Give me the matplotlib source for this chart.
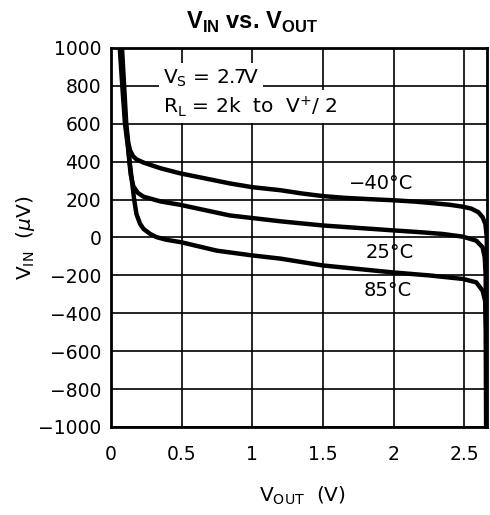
import matplotlib
matplotlib.use("Agg")
import matplotlib.pyplot as plt

plt.rcParams['font.family'] = ['DejaVu Sans']
plt.rcParams['mathtext.fontset'] = 'custom'
plt.rcParams['mathtext.rm'] = 'DejaVu Sans'
plt.rcParams['mathtext.it'] = 'DejaVu Sans:italic'
plt.rcParams['mathtext.bf'] = 'Liberation Sans:bold'

# V_IN (uV) against V_OUT (V) at three temperatures
vout_m40 = [0.078, 0.093, 0.108, 0.122, 0.135, 0.155, 0.18, 0.23, 0.35, 0.49, 0.84, 1.0,
            1.2, 1.35, 1.5, 1.65, 1.8, 2.0, 2.15, 2.26, 2.4, 2.49, 2.55, 2.6,
            2.63, 2.65, 2.66, 2.662]
vin_m40 = [1000, 800, 600, 500, 460, 430, 412, 395, 365, 338, 285, 265,
           249, 232, 218, 209, 203, 196, 189, 182, 172, 162, 152, 133,
           107, 70, 0, -1000]

vout_25 = [0.07, 0.087, 0.104, 0.12, 0.13, 0.14, 0.158, 0.19, 0.23, 0.35, 0.49,
           0.84, 1.2, 1.5, 2.0, 2.2, 2.35, 2.49, 2.585, 2.63, 2.645, 2.652, 2.656]
vin_25 = [1000, 800, 600, 500, 400, 330, 270, 235, 215, 190, 172,
          116, 85, 63, 37, 27, 18, 4, -17, -52, -104, -200, -1000]

vout_85 = [0.062, 0.08, 0.099, 0.116, 0.132, 0.148, 0.164, 0.18, 0.205, 0.23, 0.276,
           0.32, 0.39, 0.5, 0.75, 1.0, 1.2, 1.5, 2.0, 2.26, 2.49, 2.585, 2.63,
           2.648, 2.654, 2.655]
vin_85 = [1000, 800, 600, 500, 400, 300, 200, 124, 73, 45, 19,
          2, -12, -26, -70, -95, -112, -148, -185, -201, -219, -237, -281,
          -334, -500, -1000]

xticks = [0, 0.5, 1, 1.5, 2, 2.5]
xtick_labels = ['0', '0.5', '1', '1.5', '2', '2.5']
yticks = list(range(-1000, 1001, 200))
ytick_labels = [str(v).replace('-', '\u2212') for v in yticks]

fig = plt.figure(figsize=(4.9, 5.15), dpi=100)
ax = fig.add_axes([0.2265, 0.171, 0.767, 0.736])

for xs, ys in [(vout_m40, vin_m40), (vout_25, vin_25), (vout_85, vin_85)]:
    ax.plot(xs, ys, color='black', lw=3.2, solid_joinstyle='round',
            solid_capstyle='butt', zorder=3)

ax.set_xlim(0, 2.66)
ax.set_ylim(-1000, 1000)
ax.set_xticks(xticks)
ax.set_xticklabels(xtick_labels)
ax.set_yticks(yticks)
ax.set_yticklabels(ytick_labels)
ax.tick_params(length=0, labelsize=13.5)
ax.tick_params(axis='x', pad=13)
ax.tick_params(axis='y', pad=7)
ax.grid(True, color='black', lw=1.2)
ax.set_axisbelow(True)
for sp in ax.spines.values():
    sp.set_linewidth(2)

box = dict(facecolor='white', edgecolor='none', pad=3)
ax.text(0.37, 812, r'V$_\mathrm{S}$ = 2.7V ', fontsize=14.5, ha='left',
        va='baseline', bbox=box, zorder=2)
ax.text(0.37, 655, r'R$_\mathrm{L}$ = 2k  to  V$^{+}$/ 2', fontsize=14.5, ha='left',
        va='baseline', bbox=box, zorder=2)

ax.text(1.91, 285, '\u221240°C', fontsize=14, ha='center', va='center')
ax.text(1.97, -80, '25°C', fontsize=14, ha='center', va='center')
ax.text(1.96, -280, '85°C', fontsize=14, ha='center', va='center')

fig.text(0.514, 0.957, r'V$_\mathbf{IN}$ vs. V$_\mathbf{OUT}$', fontsize=17,
         fontweight='bold', family='Liberation Sans', ha='center', va='center')
fig.text(0.053, 0.538, r'V$_\mathrm{IN}$  ($\mu$V)', fontsize=14.5, rotation=90,
         ha='center', va='center')
fig.text(0.618, 0.038, r'V$_\mathrm{OUT}$  (V)', fontsize=14.5, ha='center',
         va='center')

fig.savefig('out.png', dpi=100)
